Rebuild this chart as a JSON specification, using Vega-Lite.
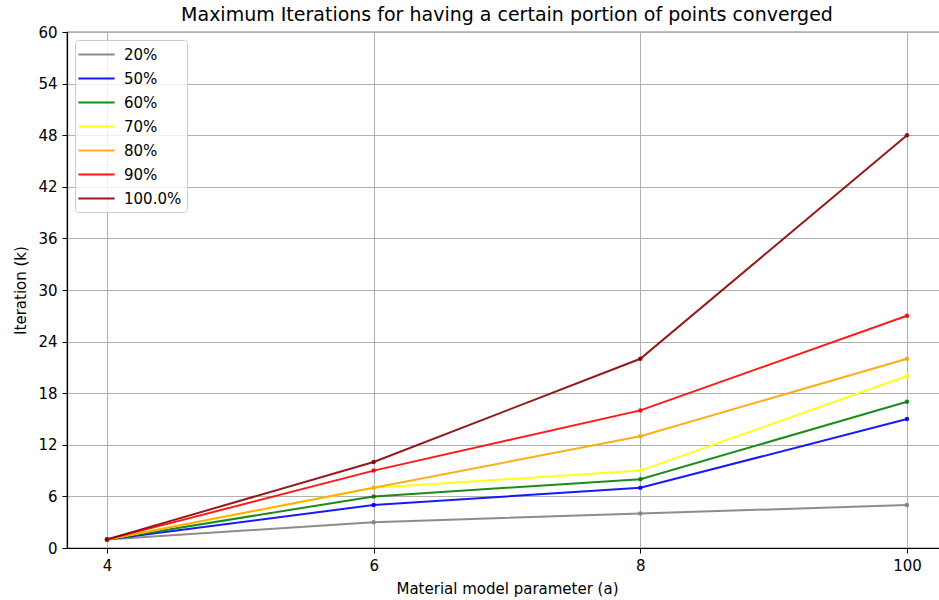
{
  "$schema": "https://vega.github.io/schema/vega-lite/v6.json",
  "autosize": "none",
  "width": 880,
  "height": 516,
  "padding": {"left": 67, "top": 32, "right": 0, "bottom": 52},
  "background": "white",
  "title": {"text": "Maximum Iterations for having a certain portion of points converged", "font": "DejaVu Sans", "fontSize": 19, "fontWeight": "normal", "color": "#000000", "anchor": "middle", "offset": 0},
  "config": {
    "view": {"stroke": "#000000", "strokeWidth": 1.2},
    "axis": {"labelFont": "DejaVu Sans", "titleFont": "DejaVu Sans", "labelFontSize": 15, "titleFontSize": 15, "titleFontWeight": "normal", "labelColor": "#000000", "titleColor": "#000000", "domainColor": "#000000", "domainWidth": 1.2, "tickColor": "#000000", "tickSize": 5, "tickWidth": 1, "gridColor": "#b0b0b0", "gridWidth": 1, "labelPadding": 5}
  },
  "data": {"values": [
    {"series": "20%", "a": "4", "k": 1}, {"series": "20%", "a": "6", "k": 3}, {"series": "20%", "a": "8", "k": 4}, {"series": "20%", "a": "100", "k": 5},
    {"series": "50%", "a": "4", "k": 1}, {"series": "50%", "a": "6", "k": 5}, {"series": "50%", "a": "8", "k": 7}, {"series": "50%", "a": "100", "k": 15},
    {"series": "60%", "a": "4", "k": 1}, {"series": "60%", "a": "6", "k": 6}, {"series": "60%", "a": "8", "k": 8}, {"series": "60%", "a": "100", "k": 17},
    {"series": "70%", "a": "4", "k": 1}, {"series": "70%", "a": "6", "k": 7}, {"series": "70%", "a": "8", "k": 9}, {"series": "70%", "a": "100", "k": 20},
    {"series": "80%", "a": "4", "k": 1}, {"series": "80%", "a": "6", "k": 7}, {"series": "80%", "a": "8", "k": 13}, {"series": "80%", "a": "100", "k": 22},
    {"series": "90%", "a": "4", "k": 1}, {"series": "90%", "a": "6", "k": 9}, {"series": "90%", "a": "8", "k": 16}, {"series": "90%", "a": "100", "k": 27},
    {"series": "100.0%", "a": "4", "k": 1}, {"series": "100.0%", "a": "6", "k": 10}, {"series": "100.0%", "a": "8", "k": 22}, {"series": "100.0%", "a": "100", "k": 48}
  ]},
  "encoding": {
    "x": {"field": "a", "type": "ordinal", "sort": ["4", "6", "8", "100"], "scale": {"type": "point", "padding": 0.15}, "axis": {"title": "Material model parameter (a)", "labelAngle": 0, "grid": true, "titlePadding": 8}},
    "y": {"field": "k", "type": "quantitative", "scale": {"domain": [0, 60], "nice": false}, "axis": {"title": "Iteration (k)", "values": [0, 6, 12, 18, 24, 30, 36, 42, 48, 54, 60], "grid": true, "titlePadding": 9}},
    "color": {"field": "series", "type": "nominal", "sort": ["20%", "50%", "60%", "70%", "80%", "90%", "100.0%"],
      "scale": {"domain": ["20%", "50%", "60%", "70%", "80%", "90%", "100.0%"], "range": ["#808080", "#0000ff", "#008000", "#ffff00", "#ffa500", "#ff0000", "#8b0000"]},
      "legend": {"title": null, "orient": "none", "legendX": 8, "legendY": 8, "symbolType": "M-2.2,0H2.2", "symbolSize": 272, "symbolOffset": 7, "symbolStrokeWidth": 2, "labelFont": "DejaVu Sans", "labelFontSize": 15, "labelColor": "#000000", "fillColor": "rgba(255,255,255,0.8)", "strokeColor": "#cccccc", "cornerRadius": 3, "padding": 5, "rowPadding": 6, "labelOffset": 18}}
  },
  "layer": [
    {"mark": {"type": "line", "strokeWidth": 2, "opacity": 0.9}},
    {"mark": {"type": "point", "filled": true, "size": 20, "opacity": 0.9}}
  ]
}
